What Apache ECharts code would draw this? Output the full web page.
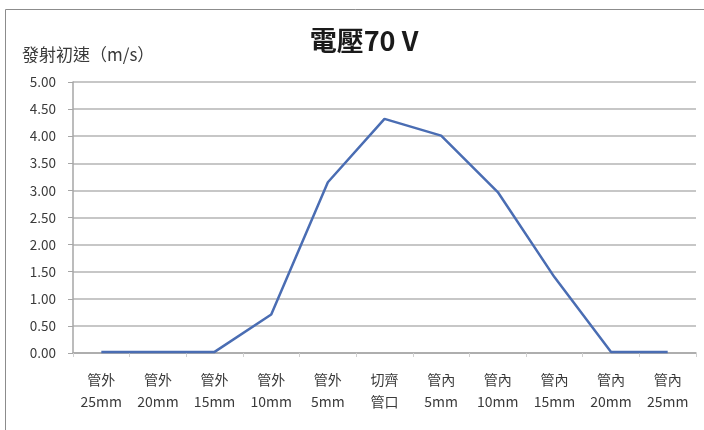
<!DOCTYPE html>
<html>
<head>
<meta charset="utf-8">
<script src="https://cdn.jsdelivr.net/npm/echarts@6/dist/echarts.min.js"></script>
<style>
  html, body { margin: 0; padding: 0; background: #fff; }
  #chart { width: 704px; height: 430px; }
</style>
</head>
<body>
<div id="chart"></div>
<script>
// Muzzle velocity at 70 V versus projectile position relative to the tube mouth
const categories = [
  '管外\n25mm', '管外\n20mm', '管外\n15mm', '管外\n10mm', '管外\n5mm',
  '切齊\n管口',
  '管內\n5mm', '管內\n10mm', '管內\n15mm', '管內\n20mm', '管內\n25mm'
];
const velocity = [0.02, 0.02, 0.02, 0.71, 3.15, 4.32, 4.01, 2.97, 1.40, 0.02, 0.02];
const yTicks = { min: 0, max: 5, step: 0.5 };

const FONT = '"Noto Sans CJK TC", "Noto Sans", sans-serif';
const chart = echarts.init(document.getElementById('chart'), null, { renderer: 'canvas' });

chart.setOption({
  backgroundColor: '#ffffff',
  animation: false,
  title: {
    text: '電壓70 V',
    left: 359,
    top: 22,
    textAlign: 'center',
    textStyle: { fontFamily: FONT, fontSize: 27, fontWeight: 'bold', color: '#1a1a1a' }
  },
  graphic: [{
    type: 'rect',
    shape: { x: 5.5, y: 9.5, width: 720, height: 440 },
    style: { fill: 'none', stroke: '#8c8c8c', lineWidth: 1 },
    silent: true
  }],
  grid: { left: 73, right: 8, top: 82, bottom: 77 },
  xAxis: {
    type: 'category',
    data: categories,
    boundaryGap: true,
    axisLine: { lineStyle: { color: '#a6a6a6', width: 1.5 } },
    axisTick: { show: true, length: 4, lineStyle: { color: '#d0d0d0' } },
    axisLabel: {
      interval: 0,
      margin: 16,
      fontFamily: FONT,
      fontSize: 14,
      lineHeight: 22,
      color: '#3a3a3a'
    }
  },
  yAxis: {
    type: 'value',
    min: yTicks.min,
    max: yTicks.max,
    interval: yTicks.step,
    name: '發射初速（m/s）',
    nameLocation: 'end',
    nameGap: 19,
    nameTextStyle: {
      fontFamily: FONT, fontSize: 17, color: '#3a3a3a',
      align: 'left', padding: [0, 0, 0, -51]
    },
    axisLine: { show: true, lineStyle: { color: '#a6a6a6', width: 1.5 } },
    axisTick: { show: true, length: 5, lineStyle: { color: '#a6a6a6' } },
    axisLabel: {
      margin: 17,
      fontFamily: FONT,
      fontSize: 13.5,
      color: '#3a3a3a',
      formatter: v => v.toFixed(2)
    },
    splitLine: { lineStyle: { color: '#b4b4b4', width: 1.5 } }
  },
  series: [{
    type: 'line',
    data: velocity,
    symbol: 'none',
    lineStyle: { color: '#4a6db3', width: 2.5 }
  }]
});
</script>
</body>
</html>
